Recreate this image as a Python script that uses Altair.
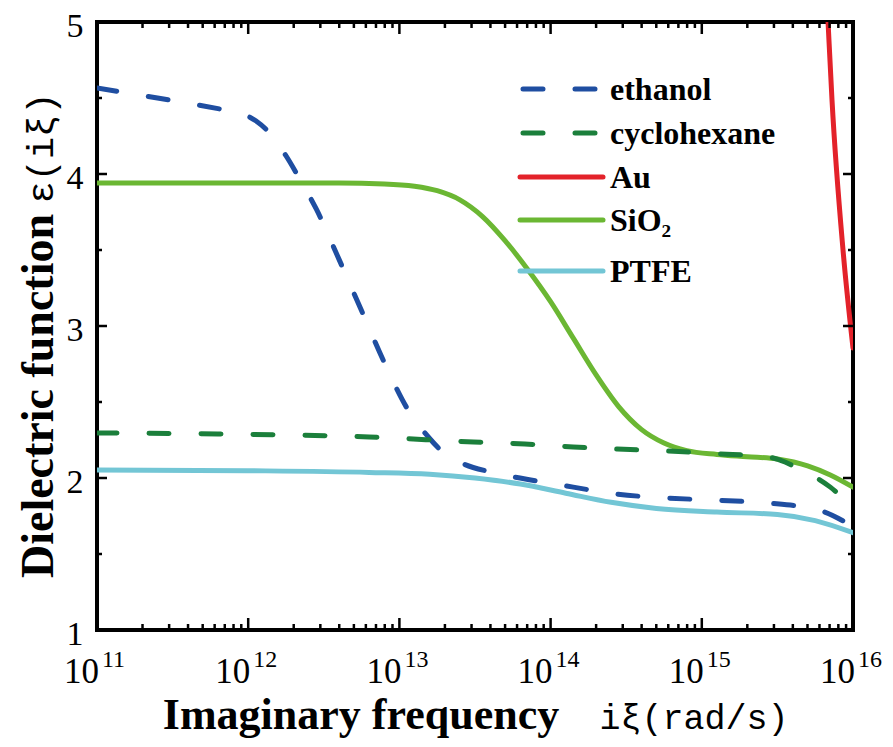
import altair as alt
import pandas as pd

# ---------------- data ----------------
series_names = ["ethanol", "cyclohexane", "Au", "SiO2", "PTFE"]
series_labels = ["ethanol", "cyclohexane", "Au", "SiO₂", "PTFE"]
series_colors = ["#1f4ea1", "#1b7f3b", "#e3222a", "#6bb733", "#73c6d5"]
dashed_series = ["ethanol", "cyclohexane"]

# x values are log10 of the imaginary frequency (rad/s)
ethanol_exp = [11.0, 11.4, 11.8, 11.95, 12.05, 12.15, 12.25, 12.35, 12.45, 12.6, 12.75,
               12.9, 13.05, 13.2, 13.3, 13.43, 13.6, 13.85, 14.15, 14.43, 14.74,
               15.06, 15.43, 15.77, 16.0]
ethanol_eps = [4.566, 4.50, 4.43, 4.40, 4.35, 4.26, 4.12, 3.95, 3.77, 3.44, 3.10,
               2.76, 2.46, 2.26, 2.16, 2.09, 2.04, 1.99, 1.94, 1.895, 1.87,
               1.855, 1.836, 1.79, 1.68]

cyclohexane_exp = [11.0, 11.8, 12.8, 13.49, 13.83, 14.15, 14.44, 14.77, 15.1, 15.44,
                   15.55, 15.65, 15.76, 15.85, 15.95, 16.0]
cyclohexane_eps = [2.296, 2.29, 2.27, 2.237, 2.224, 2.204, 2.19, 2.178, 2.16, 2.138,
                   2.105, 2.055, 2.0, 1.94, 1.855, 1.82]

au_exp = [15.82, 15.835, 15.861, 15.934, 16.0]
au_eps = [5.3, 5.0, 4.49, 3.5, 2.855]

sio2_exp = [11.0, 12.6, 12.9, 13.1, 13.25, 13.4, 13.55, 13.7, 13.85, 14.0, 14.15,
            14.3, 14.45, 14.6, 14.75, 14.9, 15.1, 15.3, 15.5, 15.7, 15.85, 16.0]
sio2_eps = [3.94, 3.94, 3.935, 3.92, 3.89, 3.83, 3.72, 3.56, 3.37, 3.16, 2.92,
            2.68, 2.47, 2.32, 2.23, 2.18, 2.155, 2.14, 2.125, 2.08, 2.02, 1.94]

ptfe_exp = [11.0, 12.0, 12.8, 13.2, 13.5, 13.8, 14.1, 14.4, 14.7, 15.1, 15.5,
            15.75, 16.0]
ptfe_eps = [2.053, 2.048, 2.037, 2.025, 2.0, 1.96, 1.90, 1.84, 1.80, 1.776, 1.76,
            1.72, 1.64]

x_tick_vals = [1e11, 1e12, 1e13, 1e14, 1e15, 1e16]
x_tick_base = ["10", "10", "10", "10", "10", "10"]
x_tick_exp = ["11", "12", "13", "14", "15", "16"]
y_tick_vals = [1, 2, 3, 4, 5]
y_minor_vals = [1.5, 2.5, 3.5, 4.5]

# ---------------- tables ----------------
all_series = {
    "ethanol": (ethanol_exp, ethanol_eps),
    "cyclohexane": (cyclohexane_exp, cyclohexane_eps),
    "Au": (au_exp, au_eps),
    "SiO2": (sio2_exp, sio2_eps),
    "PTFE": (ptfe_exp, ptfe_eps),
}
rows = []
for name, (xs, ys) in all_series.items():
    for e, v in zip(xs, ys):
        rows.append({"m": name, "f": 10 ** e, "eps": v})
df = pd.DataFrame(rows)
df_solid = df[~df["m"].isin(dashed_series)]
df_dash = df[df["m"].isin(dashed_series)]

x_minor_vals = [k * 10 ** d for d in range(11, 16) for k in range(2, 10)]
df_xt = pd.DataFrame({"v": x_tick_vals, "base": x_tick_base, "exp": x_tick_exp})
df_xm = pd.DataFrame({"v": x_minor_vals})
df_yt = pd.DataFrame({"v": y_tick_vals})
df_ym = pd.DataFrame({"v": y_minor_vals})

# ---------------- layout ----------------
W, H = 756, 608
SERIF = "Liberation Serif"
MONO = "Liberation Mono"

xscale = alt.Scale(type="log", domain=[1e11, 1e16], nice=False)
yscale = alt.Scale(domain=[1, 5], nice=False, zero=False)
yaxis = alt.Axis(values=y_tick_vals, format="d", labelFont=SERIF, labelFontSize=34,
                 labelColor="black", ticks=False, domain=False, grid=False,
                 labelPadding=14, labelBaseline="middle", labelOffset=4,
                 labelFlush=False, labelOverlap=False, title=None)
cscale = alt.Scale(domain=series_names, range=series_colors)

def X(field):
    return alt.X(field, scale=xscale, axis=None, title=None)

def Y(field):
    return alt.Y(field, scale=yscale, axis=yaxis, title=None)

color = alt.Color("m:N", scale=cscale, legend=None)

solid = alt.Chart(df_solid).mark_line(
    strokeWidth=5, clip=True, interpolate="monotone", strokeCap="round", strokeJoin="round"
).encode(x=X("f:Q"), y=Y("eps:Q"), color=color, detail="m:N")

dashed = alt.Chart(df_dash).mark_line(
    strokeWidth=5, clip=True, interpolate="monotone", strokeCap="round",
    strokeJoin="round", strokeDash=[20, 32]
).encode(x=X("f:Q"), y=Y("eps:Q"), color=color, detail="m:N")

# ticks (inward, mirrored)
def xticks(data, length):
    b = alt.Chart(data).mark_rule(color="black", strokeWidth=2.5).encode(
        x=X("v:Q"), y=alt.value(H), y2=alt.value(H - length))
    t = alt.Chart(data).mark_rule(color="black", strokeWidth=2.5).encode(
        x=X("v:Q"), y=alt.value(0), y2=alt.value(length))
    return [b, t]

def yticks(data, length):
    l = alt.Chart(data).mark_rule(color="black", strokeWidth=2.5).encode(
        y=Y("v:Q"), x=alt.value(0), x2=alt.value(length))
    r = alt.Chart(data).mark_rule(color="black", strokeWidth=2.5).encode(
        y=Y("v:Q"), x=alt.value(W), x2=alt.value(W - length))
    return [l, r]

tick_layers = xticks(df_xt, 12) + xticks(df_xm, 6) + yticks(df_yt, 10) + yticks(df_ym, 5)

# x tick labels 10^n
xl_base = alt.Chart(df_xt).mark_text(
    align="right", baseline="alphabetic", dx=2, font=SERIF, fontSize=35, color="black"
).encode(x=X("v:Q"), y=alt.value(661), text="base:N")
xl_exp = alt.Chart(df_xt).mark_text(
    align="left", baseline="alphabetic", dx=5, font=SERIF, fontSize=24, color="black"
).encode(x=X("v:Q"), y=alt.value(645), text="exp:N")

one = pd.DataFrame({"k": [0]})

def label(text, x, y, font, size, weight="normal", angle=0, align="center"):
    return alt.Chart(one).mark_text(
        text=text, font=font, fontSize=size, fontWeight=weight, angle=angle,
        align=align, baseline="alphabetic", color="black"
    ).encode(x=alt.value(x), y=alt.value(y))

titles = [
    label("Imaginary frequency", 264, 707, SERIF, 44, "bold"),
    label("iξ(rad/s)", 597, 707, MONO, 35),
    label("Dielectric function", -44, 374, SERIF, 46, "bold", angle=270),
    label("ε(iξ)", -44, 126, MONO, 37, angle=270),
]

# legend drawn inside the plot
legend_rows = [67, 111, 155, 198, 249]
legend_layers = []
for name, lab, row in zip(series_names, series_labels, legend_rows):
    dash = name in dashed_series
    d = pd.DataFrame({"m": [name]})
    props = dict(strokeWidth=5, strokeCap="round")
    if dash:
        props["strokeDash"] = [20, 32]
    legend_layers.append(
        alt.Chart(d).mark_rule(**props).encode(
            x=alt.value(426 if dash else 423), x2=alt.value(506), y=alt.value(row),
            color=color)
    )
    legend_layers.append(
        alt.Chart(d).mark_text(
            text=lab, font=SERIF, fontSize=32, fontWeight="bold", align="left",
            baseline="alphabetic", color="black"
        ).encode(x=alt.value(513), y=alt.value(row + 11))
    )

chart = alt.layer(
    solid, dashed, *tick_layers, xl_base, xl_exp, *titles, *legend_layers
).properties(
    width=W, height=H,
    autosize=alt.AutoSizeParams(type="none"),
    padding={"left": 89, "top": 14, "right": 32, "bottom": 109},
    background="white",
).configure_view(stroke="black", strokeWidth=4)

chart.save("out.html", embed_options={"renderer": "svg", "actions": False})
